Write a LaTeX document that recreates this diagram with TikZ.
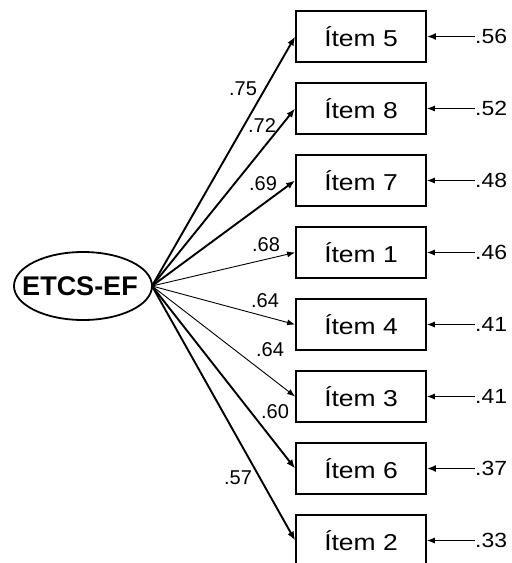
\documentclass[tikz,border=0pt]{standalone}
\usepackage{fontspec}
\setmainfont{Liberation Sans}
\newfontfamily\itemfont[FakeStretch=1.15]{Liberation Sans}
\newfontfamily\errfont[FakeStretch=1.12]{Liberation Sans}
\usetikzlibrary{arrows.meta}
\tikzset{
  itembox/.style={draw, line width=1.8pt, minimum width=130pt, minimum height=51pt,
    inner sep=0pt, font=\itemfont\fontsize{23}{25}\selectfont},
  latentlab/.style={inner sep=0pt, font=\bfseries\fontsize{27}{29}\selectfont},
  latentrim/.style={line width=1.8pt},
  heavy/.style={line width=1.9pt, -{Latex[length=9pt,width=7pt]}},
  light/.style={line width=0.9pt, -{Latex[length=8pt,width=6pt]}},
  loadlab/.style={font=\fontsize{20}{22}\selectfont, inner sep=0pt},
  errlab/.style={font=\errfont\fontsize{20.5}{22}\selectfont, inner sep=0pt, anchor=west},
}
\begin{document}
\begin{tikzpicture}[x=1pt,y=-1pt]
\useasboundingbox (0,0) rectangle (512,563);
\clip (0,0) rectangle (512,563);

% latent factor: ellipse drawn round its label
\node[latentlab] (lat) at (80,286) {ETCS-EF};
\draw[latentrim] (83,286) ellipse [x radius=69, y radius=34];
\coordinate (src) at (152,286);

% observed items
\node[itembox] (i5) at (361,36.5)  {Ítem 5};
\node[itembox] (i8) at (361,108.5) {Ítem 8};
\node[itembox] (i7) at (361,180.5) {Ítem 7};
\node[itembox] (i1) at (361,252.5) {Ítem 1};
\node[itembox] (i4) at (361,324.5) {Ítem 4};
\node[itembox] (i3) at (361,396.5) {Ítem 3};
\node[itembox] (i6) at (361,468.5) {Ítem 6};
\node[itembox] (i2) at (361,540.5) {Ítem 2};

% factor loadings
\draw[heavy] (src) -- (i5.west);
\draw[heavy] (src) -- (i8.west);
\draw[heavy] (src) -- (i7.west);
\draw[light] (src) -- (i1.west);
\draw[light] (src) -- (i4.west);
\draw[light] (src) -- (i3.west);
\draw[heavy] (src) -- (i6.west);
\draw[heavy] (src) -- (i2.west);

\node[loadlab] (l5) at (243,89)  {.75};
\node[loadlab] (l8) at (262,126) {.72};
\node[loadlab] (l7) at (263,184) {.69};
\node[loadlab] (l1) at (266,245) {.68};
\node[loadlab] (l4) at (265,301) {.64};
\node[loadlab] (l3) at (270,350) {.64};
\node[loadlab] (l6) at (275,412) {.60};
\node[loadlab] (l2) at (238,478) {.57};

% error terms
\node[errlab] (e5) at (475,36.5)  {.56};
\node[errlab] (e8) at (475,108.5) {.52};
\node[errlab] (e7) at (475,180.5) {.48};
\node[errlab] (e1) at (475,252.5) {.46};
\node[errlab] (e4) at (475,324.5) {.41};
\node[errlab] (e3) at (475,396.5) {.41};
\node[errlab] (e6) at (475,468.5) {.37};
\node[errlab] (e2) at (475,540.5) {.33};

\draw[heavy] (e5.west) -- (i5.east);
\draw[light] (e8.west) -- (i8.east);
\draw[light] (e7.west) -- (i7.east);
\draw[light] (e1.west) -- (i1.east);
\draw[light] (e4.west) -- (i4.east);
\draw[light] (e3.west) -- (i3.east);
\draw[heavy] (e6.west) -- (i6.east);
\draw[light] (e2.west) -- (i2.east);
\end{tikzpicture}
\end{document}
